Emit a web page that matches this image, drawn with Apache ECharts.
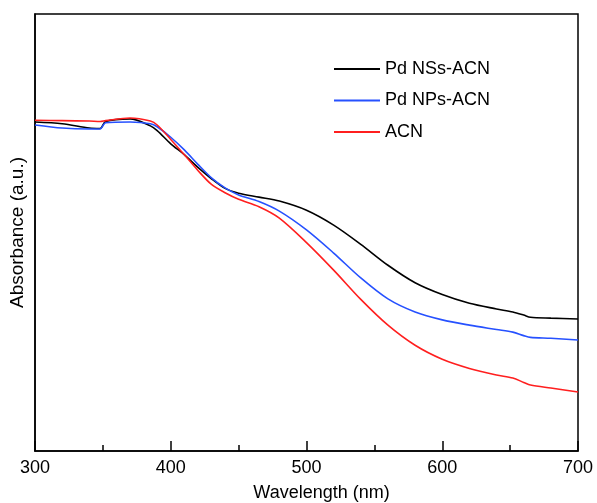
<!DOCTYPE html>
<html>
<head>
<meta charset="utf-8">
<script src="https://cdn.jsdelivr.net/npm/echarts@6/dist/echarts.min.js"></script>
<style>
  html, body { margin: 0; padding: 0; background: #fff; }
  #main { width: 597px; height: 503px; }
</style>
</head>
<body>
<div id="main"></div>
<script>
// wavelengths (nm) shared by all three spectra
var wavelength = [300, 320, 340, 348, 352, 370, 385, 390, 400, 410, 420, 430, 440, 450, 465, 480, 500, 520, 540, 560, 580, 600, 620, 640, 652, 660, 665, 680, 700];
// absorbance, arbitrary units
var pdNSs = [75.3, 74.9, 73.9, 73.8, 75.4, 76.0, 74.4, 73.3, 70.3, 67.8, 64.9, 62.3, 60.1, 59.0, 58.1, 57.2, 55.1, 51.7, 47.3, 42.5, 38.5, 35.8, 33.8, 32.5, 31.8, 31.1, 30.6, 30.4, 30.2];
var pdNPs = [74.6, 73.9, 73.7, 73.7, 75.1, 75.3, 74.9, 74.2, 71.8, 68.9, 65.6, 62.5, 60.2, 58.6, 57.1, 54.9, 50.6, 45.3, 39.6, 34.8, 31.8, 30.0, 28.8, 27.8, 27.2, 26.4, 26.0, 25.8, 25.4];
var acn   = [75.7, 75.6, 75.5, 75.4, 75.6, 76.2, 75.5, 74.6, 71.3, 67.8, 64.2, 61.0, 59.1, 57.6, 55.9, 53.3, 47.7, 41.4, 34.7, 28.8, 24.2, 21.0, 18.9, 17.4, 16.7, 15.7, 15.1, 14.4, 13.5];
var seriesNames = ['Pd NSs-ACN', 'Pd NPs-ACN', 'ACN'];
var seriesColors = ['#000000', '#2651ff', '#ff1f1f'];

function pairs(vals) {
  return wavelength.map(function (w, i) { return [w, vals[i]]; });
}

var font = 'Liberation Sans, Arial, sans-serif';
var myChart = echarts.init(document.getElementById('main'));

myChart.setOption({
  animation: false,
  grid: {
    left: 35, right: 19, top: 14, bottom: 52,
    outerBoundsMode: 'none',
    containLabel: false,
    show: true, borderColor: '#000', borderWidth: 1.5
  },
  legend: {
    orient: 'vertical',
    left: 329, top: 55,
    icon: 'rect',
    itemWidth: 46, itemHeight: 2, itemGap: 13.5,
    textStyle: { fontSize: 18, color: '#000', fontFamily: font },
    data: seriesNames
  },
  xAxis: {
    type: 'value',
    min: 300, max: 700, interval: 100,
    name: 'Wavelength (nm)',
    nameLocation: 'middle',
    nameGap: 33,
    nameTextStyle: { fontSize: 18, color: '#000', fontFamily: font, padding: [0, 0, 0, 30] },
    axisLine: { lineStyle: { color: '#000', width: 1.5 } },
    axisTick: { inside: true, length: 10, lineStyle: { color: '#000', width: 1.5 } },
    minorTick: { show: true, splitNumber: 2, length: 6, lineStyle: { color: '#000', width: 1.5 } },
    axisLabel: { fontSize: 18, color: '#000', fontFamily: font, margin: 8 },
    splitLine: { show: false }
  },
  yAxis: {
    type: 'value',
    min: 0, max: 100,
    name: 'Absorbance (a.u.)',
    nameLocation: 'middle',
    nameGap: 8,
    nameTextStyle: { fontSize: 19, color: '#000', fontFamily: font },
    axisLine: { lineStyle: { color: '#000', width: 1.5 } },
    axisTick: { show: false },
    axisLabel: { show: false },
    splitLine: { show: false }
  },
  series: [pdNSs, pdNPs, acn].map(function (vals, i) {
    return {
      name: seriesNames[i],
      type: 'line',
      symbol: 'none',
      smooth: 0.3,
      color: seriesColors[i],
      lineStyle: { width: 1.6, color: seriesColors[i] },
      data: pairs(vals)
    };
  })
});
</script>
</body>
</html>
